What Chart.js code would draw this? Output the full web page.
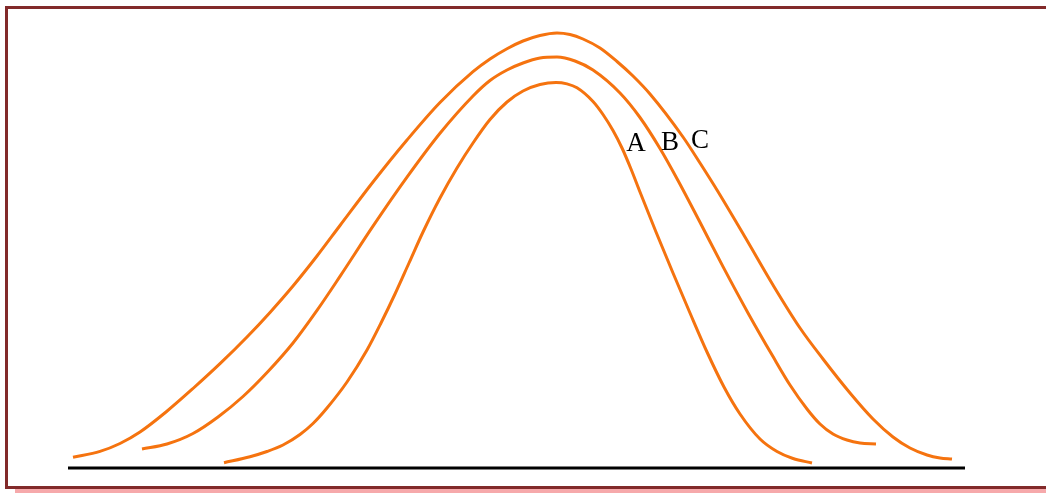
<!DOCTYPE html>
<html>
<head>
<meta charset="utf-8">
<script src="https://cdn.jsdelivr.net/npm/chart.js@4.4.1/dist/chart.umd.min.js"></script>
<style>
  html, body { margin: 0; padding: 0; background: #fff; overflow: hidden; }
  #wrap { position: relative; width: 1046px; height: 493px; }
  #frame {
    position: absolute; left: 5px; top: 6px; width: 1100px; height: 477px;
    border: 3px solid #822a2a; box-shadow: 10px 4px 0 #f6a9ab; background: #fff;
  }
  #chart { position: absolute; left: 0; top: 0; }
</style>
</head>
<body>
<div id="wrap">
  <div id="frame"></div>
  <canvas id="chart" width="1046" height="493"></canvas>
</div>
<script>
// три криві (A — найвужча, C — найширша), x — відносно центру, y — висота над базовою лінією
const curveA = [
    [-33.3, 0.53], [-30.7, 1.13], [-29.0, 1.65], [-27.4, 2.3], [-25.7, 3.35],
    [-24.4, 4.45], [-23.0, 6.0], [-21.0, 8.6], [-19.0, 11.8], [-17.6, 14.5],
    [-16.2, 17.4], [-14.8, 20.5], [-13.4, 23.6], [-11.7, 27.0], [-10.0, 30.0],
    [-8.4, 32.5], [-6.7, 34.85], [-5.0, 36.6], [-3.4, 37.7], [-1.7, 38.35],
    [-0.1, 38.55], [1.0, 38.41], [2.0, 38.02], [3.6, 36.65], [4.6, 35.35],
    [5.6, 33.75], [6.5, 32.0], [7.4, 29.9], [8.3, 27.6], [9.9, 23.6],
    [11.6, 19.5], [13.3, 15.5], [15.0, 11.6], [16.7, 8.1], [18.3, 5.4],
    [20.3, 2.9], [22.0, 1.65], [23.6, 0.95], [25.5, 0.5]
];
const curveB = [
    [-41.5, 1.9], [-39.0, 2.4], [-36.4, 3.45], [-33.9, 5.1], [-31.4, 7.15],
    [-28.9, 9.65], [-26.4, 12.5], [-24.0, 15.76], [-21.7, 19.16], [-18.4, 24.18],
    [-15.0, 29.08], [-11.7, 33.47], [-8.4, 37.2], [-6.7, 38.75], [-5.0, 39.8],
    [-3.4, 40.5], [-1.7, 41.0], [0, 41.1], [1.8, 40.7], [3.6, 39.8],
    [6.3, 37.5], [8.3, 35.05], [10.3, 31.95], [12.1, 28.75], [14.3, 24.57],
    [16.6, 20.14], [19.1, 15.51], [21.6, 11.14], [23.3, 8.3], [25.0, 5.9],
    [26.3, 4.4], [27.6, 3.4], [29.0, 2.8], [30.3, 2.5], [31.9, 2.4]
];
const curveC = [
    [-48.4, 1.07], [-45.7, 1.66], [-43.7, 2.45], [-41.7, 3.6], [-39.1, 5.6],
    [-36.4, 7.95], [-33.7, 10.43], [-31.0, 13.1], [-28.7, 15.56], [-26.4, 18.2],
    [-24.0, 21.2], [-21.7, 24.25], [-18.4, 28.6], [-15.0, 32.8], [-11.7, 36.55],
    [-8.4, 39.63], [-6.7, 40.9], [-5.0, 41.93], [-3.4, 42.7], [-1.7, 43.25],
    [0, 43.5], [1.3, 43.35], [2.6, 42.9], [4.3, 42.0], [6.0, 40.65],
    [7.6, 39.2], [9.3, 37.4], [12.6, 33.1], [14.3, 30.5], [16.0, 27.8],
    [18.8, 23.1], [21.6, 18.3], [24.3, 14.0], [26.6, 10.9], [29.3, 7.5],
    [31.6, 4.9], [33.6, 3.1], [35.3, 2.0], [37.0, 1.3], [38.3, 1.0], [39.5, 0.9]
];
const baseline = [[-48.9, 0], [40.8, 0]];

const labelNames = ['A', 'B', 'C'];
const labelX     = [7.9, 11.3, 14.3];
const labelY     = [31.7, 31.8, 32.0];

const toPts = arr => arr.map(([x, y]) => ({ x, y }));

const ORANGE = '#f5730f';

const curveLabels = {
    id: 'curveLabels',
    afterDatasetsDraw(chart) {
        const { ctx, scales: { x, y } } = chart;
        ctx.save();
        ctx.fillStyle = '#000';
        ctx.font = '27px "Liberation Serif", "DejaVu Serif", serif';
        ctx.textAlign = 'center';
        ctx.textBaseline = 'alphabetic';
        labelNames.forEach((t, i) => {
            ctx.fillText(t, x.getPixelForValue(labelX[i]), y.getPixelForValue(labelY[i]));
        });
        ctx.restore();
    }
};

const lineStyle = {
    borderColor: ORANGE, borderWidth: 3, pointRadius: 0,
    cubicInterpolationMode: 'monotone', fill: false
};

new Chart(document.getElementById('chart').getContext('2d'), {
    type: 'line',
    data: {
        datasets: [
            { label: 'A', data: toPts(curveA), ...lineStyle },
            { label: 'B', data: toPts(curveB), ...lineStyle },
            { label: 'C', data: toPts(curveC), ...lineStyle },
            { label: 'base', data: toPts(baseline), borderColor: '#000', borderWidth: 3, pointRadius: 0 }
        ]
    },
    options: {
        responsive: false, animation: false, events: [],
        layout: { padding: 0 },
        plugins: { legend: { display: false }, tooltip: { enabled: false } },
        scales: {
            x: { type: 'linear', min: -55.7, max: 48.9, display: false },
            y: { type: 'linear', min: -2.5, max: 46.8, display: false }
        }
    },
    plugins: [curveLabels]
});
</script>
</body>
</html>
